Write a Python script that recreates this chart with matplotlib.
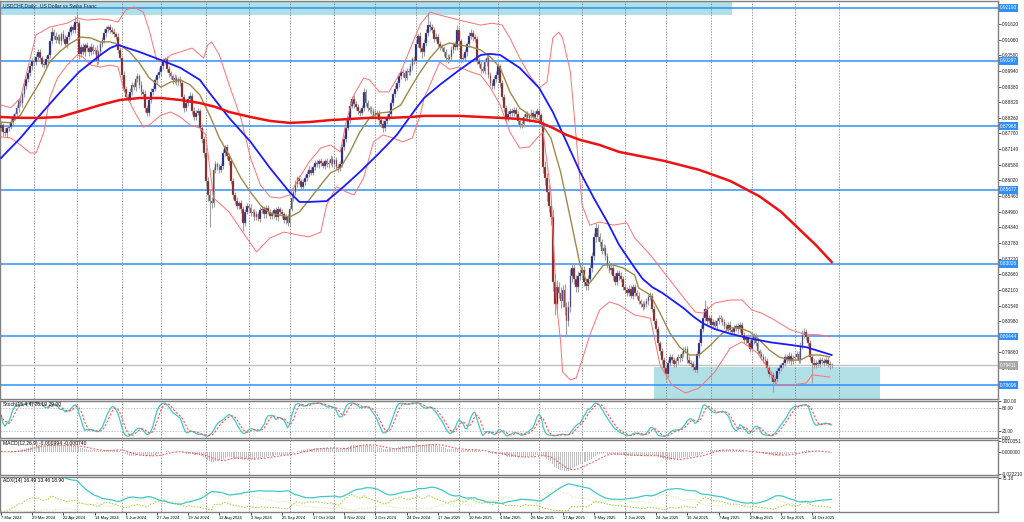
import numpy as np
import pandas as pd
import matplotlib
matplotlib.use("Agg")
import matplotlib.pyplot as plt
import matplotlib.transforms as mtransforms
from matplotlib.patches import Rectangle

plt.rcParams['font.family'] = ['Liberation Sans', 'DejaVu Sans']

# daily closes in pips (x 0.0001), first bar = 7 Mar 2024
close_pips = [
    8800, 8775, 8770, 8790, 8795, 8810, 8830, 8840, 8860, 8885, 8880, 8910, 8940, 8965, 8985,
    9010, 9030, 9025, 9045, 9060, 9040, 9020, 9015, 9035, 9050,
    9100, 9135, 9120, 9105, 9115, 9100, 9125, 9110, 9090, 9115, 9135, 9150, 9140, 9170, 9165,
    9055, 9080, 9060, 9085, 9075, 9060, 9080, 9065, 9070, 9030,
    9060, 9090, 9105, 9130, 9145, 9150, 9140, 9135, 9125, 9115, 9070, 9040, 8980, 8930, 8900,
    8895, 8920, 8945, 8935, 8965, 8975, 8945, 8920, 8910, 8860,
    8845, 8890, 8920, 8930, 8960, 8980, 8990, 9010, 9030, 9035, 9000, 8985, 8975, 8960, 8970,
    8955, 8965, 8950, 8900, 8860, 8880, 8895, 8905, 8850, 8830,
    8845, 8850, 8790, 8750, 8700, 8600, 8550, 8530, 8520, 8640, 8660, 8650, 8640, 8655, 8700,
    8720, 8690, 8670, 8600, 8550, 8530, 8510, 8520, 8500, 8450,
    8490, 8510, 8505, 8485, 8490, 8470, 8480, 8465, 8495, 8500, 8480, 8505, 8490, 8475, 8480,
    8495, 8470, 8500, 8490, 8480, 8460, 8470, 8450, 8500, 8540,
    8560, 8590, 8610, 8600, 8580, 8595, 8610, 8625, 8640, 8630, 8650, 8665, 8660, 8670, 8665,
    8655, 8670, 8660, 8665, 8680, 8660, 8675, 8650, 8645, 8660,
    8720, 8750, 8790, 8820, 8870, 8895, 8875, 8865, 8850, 8845, 8860, 8920, 8880, 8860, 8855,
    8850, 8835, 8845, 8840, 8820, 8805, 8790, 8815, 8830, 8840,
    8880, 8910, 8930, 8950, 8975, 8990, 8985, 8970, 8995, 8990, 9010, 9035, 9030, 9090, 9120,
    9075, 9060, 9095, 9130, 9160, 9150, 9140, 9110, 9115, 9090,
    9080, 9075, 9060, 9040, 9035, 9045, 9070, 9090, 9080, 9140, 9100, 9035, 9040, 9060, 9090,
    9120, 9130, 9115, 9110, 9030, 9020, 9000, 8995, 9025, 9040,
    8980, 8950, 8940, 8965, 8980, 9010, 8950, 8900, 8860, 8825, 8840, 8850, 8845, 8855, 8840,
    8815, 8800, 8805, 8830, 8840, 8825, 8835, 8845, 8830, 8840,
    8850, 8835, 8805, 8650, 8610, 8560, 8510, 8470, 8240, 8160, 8220, 8200, 8170, 8210, 8150,
    8100, 8150, 8260, 8290, 8250, 8220, 8260, 8270, 8280, 8240,
    8225, 8250, 8290, 8330, 8400, 8430, 8400, 8380, 8350, 8360, 8330, 8300, 8280, 8290, 8260,
    8240, 8270, 8260, 8250, 8220, 8210, 8200, 8215, 8190, 8220,
    8200, 8190, 8170, 8160, 8150, 8160, 8170, 8185, 8190, 8140, 8100, 8070, 8020, 7990, 7960,
    7930, 7910, 7950, 7970, 7960, 7945, 7955, 7970, 7965, 7980,
    7995, 8000, 7960, 7950, 7945, 7935, 7925, 7980, 8020, 8070, 8110, 8140, 8100, 8110, 8085,
    8095, 8080, 8100, 8110, 8105, 8095, 8080, 8070, 8085, 8065,
    8060, 8075, 8080, 8070, 8085, 8050, 8030, 8040, 8020, 8000, 8030, 8045, 8020, 7990, 7980,
    7970, 7960, 7955, 7930, 7910, 7905, 7880, 7890, 7920, 7930,
    7940, 7950, 7970, 7960, 7975, 7955, 7965, 7970, 7980, 7960, 8010, 8050, 8060, 8040, 8020,
    7970, 7950, 7940, 7950, 7945, 7960, 7955, 7950, 7960, 7945, 7940, 7941,
]

# upper / lower shadow length in pips
wick_up = [
    12, 8, 15, 10, 9, 14, 11, 7, 13, 10, 16, 9, 12, 8, 14, 11, 10, 15, 9, 12, 13, 8, 10, 14, 9,
    11, 15, 9, 13, 10, 12, 8, 14, 11, 9, 12, 10, 13, 20, 30, 11, 9, 14, 10, 12, 8, 13, 11, 10, 15,
    9, 12, 10, 14, 11, 8, 13, 10, 12, 9, 15, 11, 10, 13, 9, 12, 14, 8, 11, 10, 13, 9, 12, 10, 14,
    11, 9, 13, 10, 12, 8, 14, 11, 10, 9, 13, 12, 10, 8, 14, 11, 9, 12, 13, 10, 11, 9, 12, 10, 14,
    10, 12, 9, 14, 11, 20, 15, 18, 12, 10, 13, 9, 12, 11, 14, 10, 12, 9, 13, 11, 10, 12, 9, 13, 10,
    9, 11, 8, 12, 10, 9, 13, 8, 11, 10, 12, 9, 10, 8, 11, 9, 12, 10, 8, 11, 9, 10, 12, 9, 11,
    10, 12, 9, 11, 8, 13, 10, 9, 12, 10, 8, 11, 9, 10, 12, 8, 9, 11, 10, 12, 9, 8, 11, 10, 13,
    11, 14, 10, 12, 15, 9, 11, 13, 10, 9, 12, 14, 10, 11, 9, 12, 10, 11, 9, 13, 10, 12, 9, 11, 10,
    12, 10, 13, 9, 11, 14, 10, 12, 9, 11, 13, 10, 12, 15, 11, 14, 10, 12, 13, 40, 11, 12, 10, 13, 11,
    10, 12, 9, 11, 13, 10, 12, 9, 11, 20, 12, 10, 13, 11, 9, 12, 14, 10, 11, 9, 12, 10, 13, 11, 10,
    11, 9, 12, 10, 13, 11, 9, 12, 10, 11, 9, 12, 10, 11, 9, 10, 12, 9, 11, 10, 12, 9, 11, 10, 12,
    10, 12, 9, 15, 20, 18, 25, 22, 30, 28, 25, 20, 22, 18, 20, 15, 22, 25, 18, 16, 14, 18, 15, 17, 14,
    13, 15, 18, 16, 14, 20, 15, 13, 12, 14, 11, 13, 12, 10, 14, 11, 12, 10, 13, 11, 12, 10, 11, 13, 10,
    11, 10, 12, 9, 11, 10, 12, 9, 11, 10, 12, 9, 10, 8, 11, 9, 12, 10, 9, 11, 10, 12, 9, 11, 10,
    9, 11, 10, 12, 9, 10, 11, 12, 14, 13, 15, 35, 12, 11, 10, 12, 9, 11, 10, 12, 9, 10, 11, 9, 12,
    10, 11, 9, 12, 10, 11, 9, 10, 12, 9, 11, 10, 12, 9, 10, 11, 9, 12, 10, 9, 11, 10, 12, 9, 11,
    10, 9, 12, 10, 11, 9, 12, 10, 11, 13, 12, 15, 13, 11, 10, 12, 9, 11, 10, 12, 9, 10, 11, 9, 10, 12, 9,
]
wick_dn = [
    10, 14, 9, 12, 11, 8, 13, 10, 9, 12, 11, 14, 8, 10, 12, 9, 13, 11, 10, 14, 9, 12, 10, 11, 13,
    10, 9, 13, 11, 12, 10, 14, 9, 11, 13, 10, 12, 9, 11, 10, 18, 12, 10, 11, 9, 13, 10, 12, 11, 14,
    12, 10, 9, 11, 13, 10, 12, 9, 11, 10, 13, 12, 14, 11, 10, 9, 12, 11, 10, 13, 9, 11, 12, 10, 13,
    14, 11, 10, 12, 9, 11, 10, 13, 9, 12, 10, 11, 9, 13, 10, 12, 11, 9, 12, 14, 10, 11, 13, 9, 12,
    11, 10, 12, 13, 14, 18, 20, 95, 15, 12, 10, 11, 13, 9, 12, 10, 11, 13, 12, 14, 11, 12, 10, 13, 30,
    12, 10, 11, 9, 12, 10, 11, 9, 13, 10, 12, 11, 9, 10, 12, 11, 9, 13, 10, 11, 12, 14, 10, 11, 9,
    10, 9, 11, 12, 10, 9, 11, 10, 12, 9, 10, 11, 9, 12, 10, 9, 11, 10, 12, 9, 11, 10, 9, 12, 10,
    11, 10, 12, 9, 11, 10, 13, 11, 9, 12, 10, 11, 13, 10, 12, 11, 9, 12, 10, 20, 11, 13, 10, 12, 11,
    10, 12, 11, 9, 13, 10, 12, 11, 10, 9, 12, 11, 10, 13, 12, 15, 18, 11, 12, 10, 13, 11, 12, 10, 11,
    12, 10, 11, 13, 12, 10, 11, 12, 10, 11, 13, 12, 10, 11, 12, 10, 11, 13, 12, 10, 11, 12, 10, 11, 13,
    12, 11, 10, 12, 11, 10, 12, 11, 13, 12, 11, 10, 12, 11, 10, 12, 11, 10, 12, 11, 10, 13, 11, 12, 10,
    11, 12, 10, 20, 25, 30, 22, 28, 35, 40, 25, 20, 25, 22, 30, 60, 20, 18, 22, 20, 18, 16, 15, 17, 16,
    15, 14, 13, 16, 14, 18, 15, 14, 13, 12, 14, 13, 11, 12, 13, 11, 12, 13, 11, 12, 10, 12, 11, 10, 12,
    11, 12, 10, 11, 12, 10, 11, 13, 12, 10, 11, 12, 10, 13, 14, 15, 20, 12, 11, 10, 12, 11, 10, 12, 11,
    10, 12, 11, 10, 12, 11, 10, 13, 12, 11, 10, 12, 11, 10, 12, 11, 10, 12, 11, 10, 12, 11, 10, 12, 11,
    10, 12, 11, 13, 12, 10, 11, 12, 10, 13, 11, 12, 10, 11, 12, 10, 13, 11, 12, 10, 12, 35, 11, 10, 12,
    11, 10, 12, 11, 10, 12, 11, 10, 12, 11, 10, 12, 11, 10, 12, 11, 73, 10, 11, 12, 10, 11, 12, 10, 11, 12, 10,
]

# moving averages / bands (bar index, price)
sma50_idx = [0, 10, 20, 30, 40, 51, 56, 60, 71, 82, 92, 102, 107, 117, 128, 138, 148, 153, 158,
             167, 175, 184, 193, 203, 213, 217, 225, 235, 246, 251, 256, 266, 276, 283, 290, 297,
             304, 311, 317, 325, 329, 334, 339, 345, 350, 355, 360, 366, 374, 385, 395, 405, 413,
             420, 426]
sma50_val = [0.8682, 0.8754, 0.8836, 0.8915, 0.8990, 0.9051, 0.9076, 0.9087, 0.9062, 0.9033,
             0.9005, 0.8962, 0.8915, 0.8826, 0.8740, 0.8646, 0.8560, 0.8525, 0.8525, 0.8528,
             0.8575, 0.8632, 0.8693, 0.8765, 0.8861, 0.8897, 0.8944, 0.8997, 0.9051, 0.9055,
             0.9051, 0.9005, 0.8933, 0.8847, 0.8740, 0.8632, 0.8539, 0.8453, 0.8371, 0.8289,
             0.8250, 0.8220, 0.8200, 0.8170, 0.8145, 0.8115, 0.8090, 0.8070, 0.8053, 0.8035,
             0.8022, 0.8013, 0.8005, 0.7990, 0.7977]

sma20_idx = [0, 5, 10, 15, 20, 25, 30, 35, 41, 46, 51, 56, 61, 66, 71, 76, 82, 87, 92, 97, 102,
             107, 112, 117, 123, 128, 133, 138, 143, 148, 153, 158, 164, 169, 174, 179, 184, 189,
             194, 199, 205, 210, 215, 220, 225, 230, 235, 241, 246, 251, 256, 261, 266, 271, 276,
             282, 287, 292, 297, 301, 304, 309, 314, 319, 325, 327, 333, 338, 343, 348, 353, 358,
             364, 369, 374, 379, 384, 389, 394, 399, 404, 410, 415, 420, 425]
sma20_val = [0.8811, 0.8808, 0.8836, 0.8897, 0.8954, 0.9026, 0.9062, 0.9090, 0.9115, 0.9112,
             0.9098, 0.9098, 0.9087, 0.9062, 0.9022, 0.8969, 0.8936, 0.8954, 0.8962, 0.8944,
             0.8908, 0.8836, 0.8754, 0.8693, 0.8611, 0.8560, 0.8514, 0.8485, 0.8478, 0.8471,
             0.8489, 0.8532, 0.8586, 0.8629, 0.8646, 0.8704, 0.8775, 0.8826, 0.8843, 0.8847,
             0.8872, 0.8933, 0.8990, 0.9040, 0.9080, 0.9094, 0.9087, 0.9080, 0.9069, 0.9044,
             0.9005, 0.8919, 0.8861, 0.8836, 0.8818, 0.8754, 0.8632, 0.8467, 0.8299, 0.8228,
             0.8253, 0.8299, 0.8299, 0.8289, 0.8263, 0.8217, 0.8192, 0.8127, 0.8056, 0.8006,
             0.7977, 0.7977, 0.8013, 0.8049, 0.8074, 0.8074, 0.8060, 0.8031, 0.7995, 0.7970,
             0.7959, 0.7959, 0.7977, 0.7977, 0.7970]

sma200_idx = [0, 10, 20, 30, 41, 51, 61, 71, 82, 92, 102, 110, 117, 128, 138, 148, 158, 169, 179,
              189, 199, 210, 217, 235, 256, 266, 276, 283, 290, 297, 307, 317, 325, 340, 358, 374,
              389, 400, 409, 418, 426]
sma200_val = [0.8829, 0.8826, 0.8826, 0.8829, 0.8851, 0.8872, 0.8890, 0.8897, 0.8897, 0.8890,
              0.8879, 0.8865, 0.8847, 0.8829, 0.8815, 0.8808, 0.8811, 0.8818, 0.8822, 0.8826,
              0.8826, 0.8829, 0.8833, 0.8833, 0.8826, 0.8822, 0.8811, 0.8790, 0.8765, 0.8747,
              0.8729, 0.8704, 0.8693, 0.8672, 0.8640, 0.8600, 0.8545, 0.8490, 0.8430, 0.8370,
              0.8310]

bb_up_idx = [0, 5, 10, 15, 18, 25, 34, 39, 44, 51, 56, 60, 64, 68, 73, 76, 80, 84, 87, 92, 98,
             104, 106, 108, 112, 117, 123, 128, 133, 138, 143, 148, 153, 158, 164, 169, 174, 177,
             181, 186, 189, 194, 199, 205, 210, 215, 220, 225, 235, 246, 252, 257, 261, 266, 271,
             276, 280, 283, 286, 288, 292, 295, 298, 302, 307, 314, 321, 325, 333, 343, 351, 356,
             360, 366, 374, 380, 385, 390, 395, 405, 412, 420, 425]
bb_up_val = [0.8872, 0.8862, 0.8897, 0.9040, 0.9123, 0.9151, 0.9165, 0.9183, 0.9176, 0.9180,
             0.9176, 0.9169, 0.9212, 0.9223, 0.9205, 0.9140, 0.9030, 0.9030, 0.9051, 0.9062,
             0.9076, 0.9040, 0.9087, 0.9098, 0.9051, 0.8944, 0.8826, 0.8682, 0.8586, 0.8543,
             0.8539, 0.8550, 0.8611, 0.8668, 0.8718, 0.8729, 0.8704, 0.8811, 0.8908, 0.8969,
             0.8962, 0.8919, 0.8919, 0.8990, 0.9076, 0.9160, 0.9205, 0.9194, 0.9176, 0.9158,
             0.9165, 0.9158, 0.9112, 0.9040, 0.8979, 0.8933, 0.8954, 0.9112, 0.9133, 0.9112,
             0.8990, 0.8754, 0.8514, 0.8442, 0.8453, 0.8442, 0.8450, 0.8396, 0.8335, 0.8246,
             0.8174, 0.8131, 0.8127, 0.8163, 0.8174, 0.8174, 0.8138, 0.8127, 0.8109, 0.8067,
             0.8052, 0.8049, 0.8042]

bb_dn_idx = [0, 5, 10, 15, 18, 22, 25, 29, 34, 39, 42, 46, 51, 56, 60, 63, 68, 73, 76, 82, 87,
             92, 97, 102, 105, 109, 117, 124, 131, 138, 145, 152, 158, 164, 167, 172, 177, 181,
             186, 191, 196, 201, 206, 211, 215, 217, 220, 225, 230, 235, 241, 246, 251, 256, 261,
             266, 271, 275, 278, 282, 285, 287, 288, 292, 295, 298, 302, 307, 312, 317, 325, 333,
             338, 344, 351, 358, 366, 374, 380, 388, 393, 398, 406, 413, 416, 425]
bb_dn_val = [0.8758, 0.8754, 0.8729, 0.8700, 0.8700, 0.8775, 0.8897, 0.8969, 0.9015, 0.9051,
             0.9044, 0.9015, 0.9008, 0.9015, 0.9008, 0.8926, 0.8854, 0.8793, 0.8800, 0.8836,
             0.8847, 0.8829, 0.8800, 0.8790, 0.8765, 0.8539, 0.8489, 0.8417, 0.8346, 0.8396,
             0.8417, 0.8407, 0.8400, 0.8417, 0.8514, 0.8579, 0.8561, 0.8550, 0.8611, 0.8740,
             0.8765, 0.8754, 0.8740, 0.8754, 0.8836, 0.8897, 0.8944, 0.9026, 0.9000, 0.9008,
             0.8990, 0.8979, 0.8933, 0.8872, 0.8775, 0.8718, 0.8722, 0.8754, 0.8775, 0.8561,
             0.8156, 0.8024, 0.7916, 0.7888, 0.7895, 0.7959, 0.8049, 0.8138, 0.8167, 0.8156,
             0.8120, 0.8109, 0.7941, 0.7870, 0.7841, 0.7859, 0.7916, 0.8002, 0.8024, 0.7984,
             0.7934, 0.7870, 0.7870, 0.7877, 0.7906, 0.7898]

# horizontal levels and zones
level_prices = [0.92193, 0.90297, 0.87968, 0.85677, 0.83028, 0.80444, 0.78696]
level_labels = ["0.92193", "0.90297", "0.87968", "0.85677", "0.83028", "0.80444", "0.78696"]
last_price = 0.79411
zone_top = (-2, 375, 0.91940, 0.93000)
zone_bottom = (335, 451, 0.77500, 0.79340)

price_ticks = [0.91620, 0.91060, 0.90500, 0.89940, 0.89380, 0.88820, 0.88260, 0.87700, 0.87140,
               0.86580, 0.86020, 0.85460, 0.84900, 0.84340, 0.83780, 0.83220, 0.82660, 0.82100,
               0.81540, 0.80980, 0.79860, 0.79300]

date_labels = ["7 Mar 2024", "29 Mar 2024", "22 Apr 2024", "14 May 2024", "5 Jun 2024",
               "27 Jun 2024", "19 Jul 2024", "12 Aug 2024", "3 Sep 2024", "25 Sep 2024",
               "17 Oct 2024", "8 Nov 2024", "2 Dec 2024", "24 Dec 2024", "17 Jan 2025",
               "10 Feb 2025", "4 Mar 2025", "26 Mar 2025", "17 Apr 2025", "9 May 2025",
               "2 Jun 2025", "24 Jun 2025", "16 Jul 2025", "7 Aug 2025", "29 Aug 2025",
               "22 Sep 2025", "14 Oct 2025"]
month_starts = [17, 39, 62, 82, 105, 127, 148, 171, 192, 213, 235, 255, 276, 298, 320, 341,
                364, 385, 407, 430]

stoch_title = "Stoch(15,4,4) 26.19 29.00"
macd_title = "MACD(12,26,9) -0.000994 -0.000740"
adx_title = "ADX(14) 16.49 13.46 18.90"

assert len(close_pips) == len(wick_up) == len(wick_dn)

# ---- build OHLC
close = np.array(close_pips) / 10000.0
opn = np.r_[close[0] - 0.0010, close[:-1]]
high = np.maximum(opn, close) + np.array(wick_up) / 10000.0
low = np.minimum(opn, close) - np.array(wick_dn) / 10000.0
n = len(close)
x = np.arange(n)
c = pd.Series(close)
h = pd.Series(high)
l = pd.Series(low)

# stochastic 15,4,4
ll = l.rolling(15, min_periods=1).min()
hh = h.rolling(15, min_periods=1).max()
k = 100 * (c - ll).rolling(4, min_periods=1).sum() / (hh - ll).rolling(4, min_periods=1).sum()
d = k.rolling(4, min_periods=1).mean()

# MACD 12,26,9 (MT4 style: histogram + SMA signal)
macd = c.ewm(span=12, adjust=False).mean() - c.ewm(span=26, adjust=False).mean()
signal = macd.rolling(9, min_periods=1).mean()

# ADX 14
up = h.diff()
dn = -l.diff()
pdm = np.where((up > dn) & (up > 0), up, 0.0)
mdm = np.where((dn > up) & (dn > 0), dn, 0.0)
tr = pd.concat([h - l, (h - c.shift()).abs(), (l - c.shift()).abs()], axis=1).max(axis=1)
atr = tr.ewm(alpha=1 / 14, adjust=False).mean()
pdi = 100 * pd.Series(pdm).ewm(alpha=1 / 14, adjust=False).mean() / atr
mdi = 100 * pd.Series(mdm).ewm(alpha=1 / 14, adjust=False).mean() / atr
dx = 100 * (pdi - mdi).abs() / (pdi + mdi)
adx = dx.ewm(alpha=1 / 14, adjust=False).mean()

# ---- figure
W, H = 1024, 522
fig = plt.figure(figsize=(W / 100, H / 100), dpi=100)
fig.patch.set_facecolor("white")
right = 998 / W


def panel(top_px, bot_px):
    return fig.add_axes([0.0, 1 - bot_px / H, right, (bot_px - top_px) / H])


ax = panel(1, 399)
ax_st = panel(401, 438)
ax_md = panel(440, 475)
ax_ad = panel(477, 512)
XMIN, XMAX = -0.5, 511.3
FS = 3.4
FS_DATE = 3.0
GRID = "#707070"

for a in (ax, ax_st, ax_md, ax_ad):
    a.set_xlim(XMIN, XMAX)
    a.set_facecolor("white")
    for s in a.spines.values():
        s.set_color("#808080")
        s.set_linewidth(1.0)
    a.yaxis.tick_right()
    a.tick_params(axis="y", length=2, width=0.5, pad=1, labelsize=FS, colors="#202020")
    a.tick_params(axis="x", length=0, labelbottom=False)
    for m in month_starts:
        a.axvline(m, color=GRID, lw=0.5, ls=(0, (2, 2)), zorder=1)

# main chart
ax.set_ylim(0.78195, 0.92443)
ax.add_patch(Rectangle((zone_top[0], zone_top[2]), zone_top[1] - zone_top[0],
                       zone_top[3] - zone_top[2], color="#b0dfe6", zorder=0.5, lw=0))
ax.add_patch(Rectangle((zone_bottom[0], zone_bottom[2]), zone_bottom[1] - zone_bottom[0],
                       zone_bottom[3] - zone_bottom[2], color="#b0dfe6", zorder=0.5, lw=0))

ax.axhline(last_price, color="#c0c0c0", lw=1.0, zorder=1.5)
for lv in level_prices:
    ax.axhline(lv, color="#2f8fff", lw=1.1, zorder=1.6)

ax.vlines(x, low, high, color="#a0a0a0", lw=0.8, zorder=2)
bull = close >= opn
body_lo = np.minimum(opn, close)
body_h = np.maximum(np.abs(close - opn), 0.00008)
ax.bar(x[bull], body_h[bull], bottom=body_lo[bull], width=0.85, color="#14148c",
       edgecolor="#9a9a9a", lw=0.3, zorder=3)
ax.bar(x[~bull], body_h[~bull], bottom=body_lo[~bull], width=0.85, color="#8b1414",
       edgecolor="#9a9a9a", lw=0.3, zorder=3)

ax.plot(bb_up_idx, bb_up_val, color="#ff7070", lw=0.7, zorder=4)
ax.plot(bb_dn_idx, bb_dn_val, color="#ff7070", lw=0.7, zorder=4)
ax.plot(sma20_idx, sma20_val, color="#a08848", lw=1.0, zorder=4)
ax.plot(sma50_idx, sma50_val, color="#1a1aff", lw=1.3, zorder=4)
ax.plot(sma200_idx, sma200_val, color="#ee1111", lw=1.8, zorder=4)

ax.set_yticks(price_ticks)
ax.set_yticklabels([f"{p:.5f}" for p in price_ticks])
yt = mtransforms.blended_transform_factory(ax.transAxes, ax.transData)
for lv, lab in zip(level_prices, level_labels):
    ax.text(1.002, lv, lab, transform=yt, fontsize=FS, color="white", va="center", ha="left",
            bbox=dict(facecolor="#2f8fff", edgecolor="none", pad=0.8), clip_on=False, zorder=6)
ax.text(1.002, last_price, f"{last_price:.5f}", transform=yt, fontsize=FS, color="white",
        va="center", ha="left", bbox=dict(facecolor="#a8a8a8", edgecolor="none", pad=0.8),
        clip_on=False, zorder=6)
ax.text(0.003, 0.993, "USDCHF,Daily:  US Dollar vs Swiss Franc", transform=ax.transAxes,
        fontsize=3.6, va="top", ha="left", color="#202020", zorder=7)

# stochastic
ax_st.set_ylim(0, 100)
ax_st.axhline(80, color="#9ab0c0", lw=0.5, ls=(0, (2, 2)))
ax_st.axhline(20, color="#9ab0c0", lw=0.5, ls=(0, (2, 2)))
ax_st.plot(x, k, color="#40c8c8", lw=0.9)
ax_st.plot(x, d, color="#ff5050", lw=0.8, ls=(0, (2, 1.5)))
ax_st.set_yticks([100, 80, 20, 0])
ax_st.set_yticklabels(["100.00", "80.00", "20.00", "0.00"])
ax_st.text(0.003, 0.96, stoch_title, transform=ax_st.transAxes, fontsize=3.6, va="top")

# MACD
ax_md.set_ylim(-0.0235, 0.0115)
ax_md.bar(x, macd, width=0.5, color="#c0c0c0", lw=0)
ax_md.plot(x, signal, color="#ff5050", lw=0.8, ls=(0, (1.5, 1.5)))
ax_md.set_yticks([0.010351, 0.0, -0.02221])
ax_md.set_yticklabels(["0.010351", "0.000000", "-0.022210"])
ax_md.text(0.003, 0.96, macd_title, transform=ax_md.transAxes, fontsize=3.6, va="top")

# ADX
ax_ad.set_ylim(0, 78)
ax_ad.plot(x, pdi, color="#9acd32", lw=0.7, ls=(0, (1.5, 1.5)))
ax_ad.plot(x, mdi, color="#dfe8a8", lw=0.7, ls=(0, (1.5, 1.5)))
ax_ad.plot(x, adx, color="#40c8c8", lw=0.9)
ax_ad.set_yticks([75.18])
ax_ad.set_yticklabels(["75.18"])
ax_ad.text(0.003, 0.96, adx_title, transform=ax_ad.transAxes, fontsize=3.6, va="top")

ax_ad.set_xticks(np.arange(0, 16 * len(date_labels), 16))
ax_ad.set_xticklabels(date_labels, ha="left")
ax_ad.tick_params(axis="x", length=2, width=0.5, pad=1, labelsize=FS_DATE, labelbottom=True)

fig.savefig("out.png", dpi=100)
